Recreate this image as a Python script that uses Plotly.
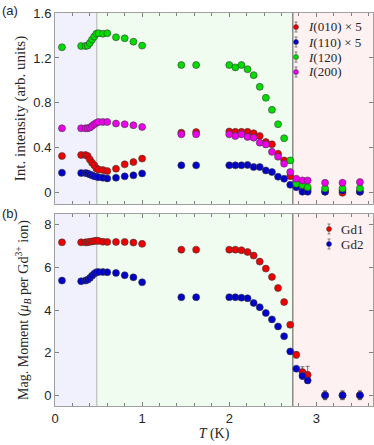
import plotly.graph_objects as go
from plotly.subplots import make_subplots

# temperatures (K)
T = [0.08, 0.3, 0.35, 0.375, 0.4, 0.425, 0.45, 0.475, 0.5, 0.55, 0.6, 0.7, 0.8, 0.9, 1.0,
     1.45, 1.62, 2.0, 2.07, 2.14, 2.21, 2.28, 2.35, 2.42, 2.49, 2.56, 2.63, 2.7, 2.77, 2.84, 2.9,
     3.1, 3.3, 3.5]

# panel (a): integrated intensities
I010 = [0.327, 0.336, 0.336, 0.327, 0.297, 0.268, 0.246, 0.217, 0.208, 0.202, 0.193, 0.214, 0.253, 0.273, 0.304,
        0.535, 0.54, 0.545, 0.542, 0.542, 0.542, 0.53, 0.505, 0.452, 0.431, 0.348, 0.288, 0.148, 0.074, 0.04, 0.03,
        0.01, 0.0, 0.01]
I110 = [0.179, 0.175, 0.175, 0.172, 0.163, 0.155, 0.148, 0.143, 0.139, 0.134, 0.128, 0.134, 0.146, 0.155, 0.172,
        0.244, 0.244, 0.244, 0.244, 0.244, 0.247, 0.229, 0.229, 0.199, 0.184, 0.143, 0.125, 0.071, 0.05, 0.009, 0.009,
        0.009, 0.02, 0.009]
I120 = [1.295, 1.306, 1.306, 1.31, 1.333, 1.363, 1.39, 1.416, 1.42, 1.415, 1.42, 1.384, 1.375, 1.345, 1.31,
        1.137, 1.137, 1.137, 1.116, 1.137, 1.10, 1.047, 0.943, 0.845, 0.738, 0.61, 0.485, 0.288, 0.08, 0.068, 0.05,
        0.038, 0.038, 0.04]
I200 = [0.574, 0.574, 0.574, 0.574, 0.58, 0.595, 0.61, 0.622, 0.63, 0.63, 0.63, 0.616, 0.61, 0.601, 0.586,
        0.52, 0.52, 0.52, 0.505, 0.52, 0.497, 0.49, 0.446, 0.43, 0.364, 0.321, 0.259, 0.184, 0.125, 0.11, 0.11,
        0.089, 0.089, 0.095]
err_a = [0.008] * 28 + [0.012, 0.015, 0.015, 0.012, 0.012, 0.012]

# panel (b): magnetic moments
Gd1 = [7.17, 7.17, 7.17, 7.18, 7.2, 7.21, 7.23, 7.25, 7.24, 7.2, 7.19, 7.19, 7.19, 7.16, 7.1,
       6.83, 6.83, 6.83, 6.83, 6.8, 6.72, 6.55, 6.27, 5.94, 5.55, 5.03, 4.37, 3.31, 1.9, 1.09, 0.96,
       0.0, 0.0, 0.0]
Gd2 = [5.38, 5.35, 5.38, 5.42, 5.5, 5.61, 5.7, 5.77, 5.78, 5.78, 5.77, 5.74, 5.63, 5.53, 5.3,
       4.6, 4.6, 4.6, 4.6, 4.58, 4.55, 4.33, 4.13, 3.86, 3.56, 3.23, 2.77, 2.06, 1.25, 0.91, 0.7,
       0.0, 0.0, 0.0]
err_gd1 = [0.06] * 28 + [0.15, 0.25, 0.4, 0.2, 0.2, 0.2]
err_gd2 = [0.06] * 28 + [0.1, 0.15, 0.12, 0.2, 0.2, 0.2]

T_phase1 = 0.48
T_phase2 = 2.73

W, H = 374, 445
ML, MR, MT, MB = 55, 1, 13, 39
PW, PH = W - ML - MR, H - MT - MB

def px(x):  # pixel -> paper
    return (x - ML) / PW

def py(y):
    return (H - MB - y) / PH

fig = make_subplots(rows=2, cols=1, shared_xaxes=True)

mk_line = dict(color="#3a3a3a", width=0.6)
eb = dict(type="data", thickness=0.8, width=2, color="#555555")
serif = "Liberation Serif"
txt = "#262626"

series_a = [("<i>I</i>(010) × 5", I010, "#ee0000"),
            ("<i>I</i>(110) × 5", I110, "#0000cc"),
            ("<i>I</i>(120)", I120, "#00dd00"),
            ("<i>I</i>(200)", I200, "#ee00ee")]
for name, vals, col in series_a:
    fig.add_trace(go.Scatter(x=T, y=vals, mode="markers", name=name, showlegend=False,
                             marker=dict(size=7, color=col, line=mk_line),
                             error_y=dict(array=err_a, **eb)), row=1, col=1)

series_b = [("Gd1", Gd1, err_gd1, "#ee0000"), ("Gd2", Gd2, err_gd2, "#0000cc")]
for name, vals, err, col in series_b:
    fig.add_trace(go.Scatter(x=T, y=vals, mode="markers", name=name, showlegend=False,
                             marker=dict(size=7, color=col, line=mk_line),
                             error_y=dict(array=err, **eb)), row=2, col=1)

# shaded phase regions + boundaries
shapes = []
for xr, yr in [("x", "y domain"), ("x2", "y2 domain")]:
    for x0, x1, c in [(0, T_phase1, "#f1f1fd"), (T_phase1, T_phase2, "#f1fcf1"), (T_phase2, 3.65, "#fdf1f1")]:
        shapes.append(dict(type="rect", xref=xr, yref=yr, x0=x0, x1=x1, y0=0, y1=1,
                           fillcolor=c, line_width=0, layer="below"))
    shapes.append(dict(type="line", xref=xr, yref=yr, x0=T_phase1, x1=T_phase1, y0=0, y1=1,
                       line=dict(color="#b0b0b0", width=1), layer="below"))
    shapes.append(dict(type="line", xref=xr, yref=yr, x0=T_phase2, x1=T_phase2, y0=0, y1=1,
                       line=dict(color="#555555", width=1), layer="below"))

# legends drawn by hand (marker with error bar + label)
annotations = []
def legend_entry(sx, sy, label, col):
    shapes.append(dict(type="line", xref="paper", yref="paper", x0=px(sx), x1=px(sx),
                       y0=py(sy - 5), y1=py(sy + 5), line=dict(color="#666666", width=0.8)))
    for cy in (sy - 5, sy + 5):
        shapes.append(dict(type="line", xref="paper", yref="paper", x0=px(sx - 1.5), x1=px(sx + 1.5),
                           y0=py(cy), y1=py(cy), line=dict(color="#666666", width=0.8)))
    shapes.append(dict(type="circle", xref="paper", yref="paper", xsizemode="pixel", ysizemode="pixel",
                       xanchor=px(sx), yanchor=py(sy), x0=-2.5, x1=2.5, y0=-2.5, y1=2.5,
                       fillcolor=col, line=dict(color="#3a3a3a", width=0.5)))
    annotations.append(dict(text=label, xref="paper", yref="paper", x=px(sx + 10), y=py(sy),
                            xanchor="left", yanchor="middle", showarrow=False,
                            font=dict(family=serif, size=13, color=txt)))

for i, (name, _, col) in enumerate(series_a):
    legend_entry(296, 27 + 15 * i, name, col)
for i, (name, _, _, col) in enumerate(series_b):
    legend_entry(329, 229 + 15 * i, name, col)

annotations += [
    dict(text="(a)", xref="paper", yref="paper", x=px(0), y=py(10), xanchor="left", yanchor="middle",
         showarrow=False, font=dict(family="Liberation Sans", size=13, color=txt)),
    dict(text="(b)", xref="paper", yref="paper", x=px(0), y=py(213), xanchor="left", yanchor="middle",
         showarrow=False, font=dict(family="Liberation Sans", size=13, color=txt)),
]

ax_common = dict(showline=True, linecolor="#a0a0a0", mirror="ticks", ticks="inside", ticklen=4,
                 tickcolor="#808080", showgrid=False, zeroline=False,
                 tickfont=dict(family="Liberation Sans", size=13, color=txt))

fig.update_layout(
    width=W, height=H,
    margin=dict(l=ML, r=MR, t=MT, b=MB, autoexpand=False),
    plot_bgcolor="white", paper_bgcolor="white",
    shapes=shapes, annotations=annotations,
    xaxis=dict(range=[0, 3.65], dtick=1, showticklabels=False,
               minor=dict(dtick=0.2, ticks="inside", ticklen=3, tickcolor="#808080"), **ax_common),
    xaxis2=dict(range=[0, 3.65], dtick=1, domain=[0, 1],
                minor=dict(dtick=0.2, ticks="inside", ticklen=3, tickcolor="#808080"),
                title=dict(text="<i>T</i> (K)", font=dict(family=serif, size=14, color=txt), standoff=2),
                **ax_common),
    yaxis=dict(range=[-0.1, 1.6], dtick=0.4, domain=[py(204), 1],
               title=dict(text="Int. intensity (arb. units)", font=dict(family=serif, size=15, color=txt),
                          standoff=4), **ax_common),
    yaxis2=dict(range=[-0.5, 8.5], dtick=2, domain=[0, py(214)],
                title=dict(text="Mag. Moment (<i>μ<sub>B</sub></i> per Gd<sup>3+</sup> ion)",
                           font=dict(family=serif, size=14, color=txt), standoff=12), **ax_common),
)

fig.write_html("out.html", config={"displayModeBar": False},
               post_script="document.body.style.margin='0';")
